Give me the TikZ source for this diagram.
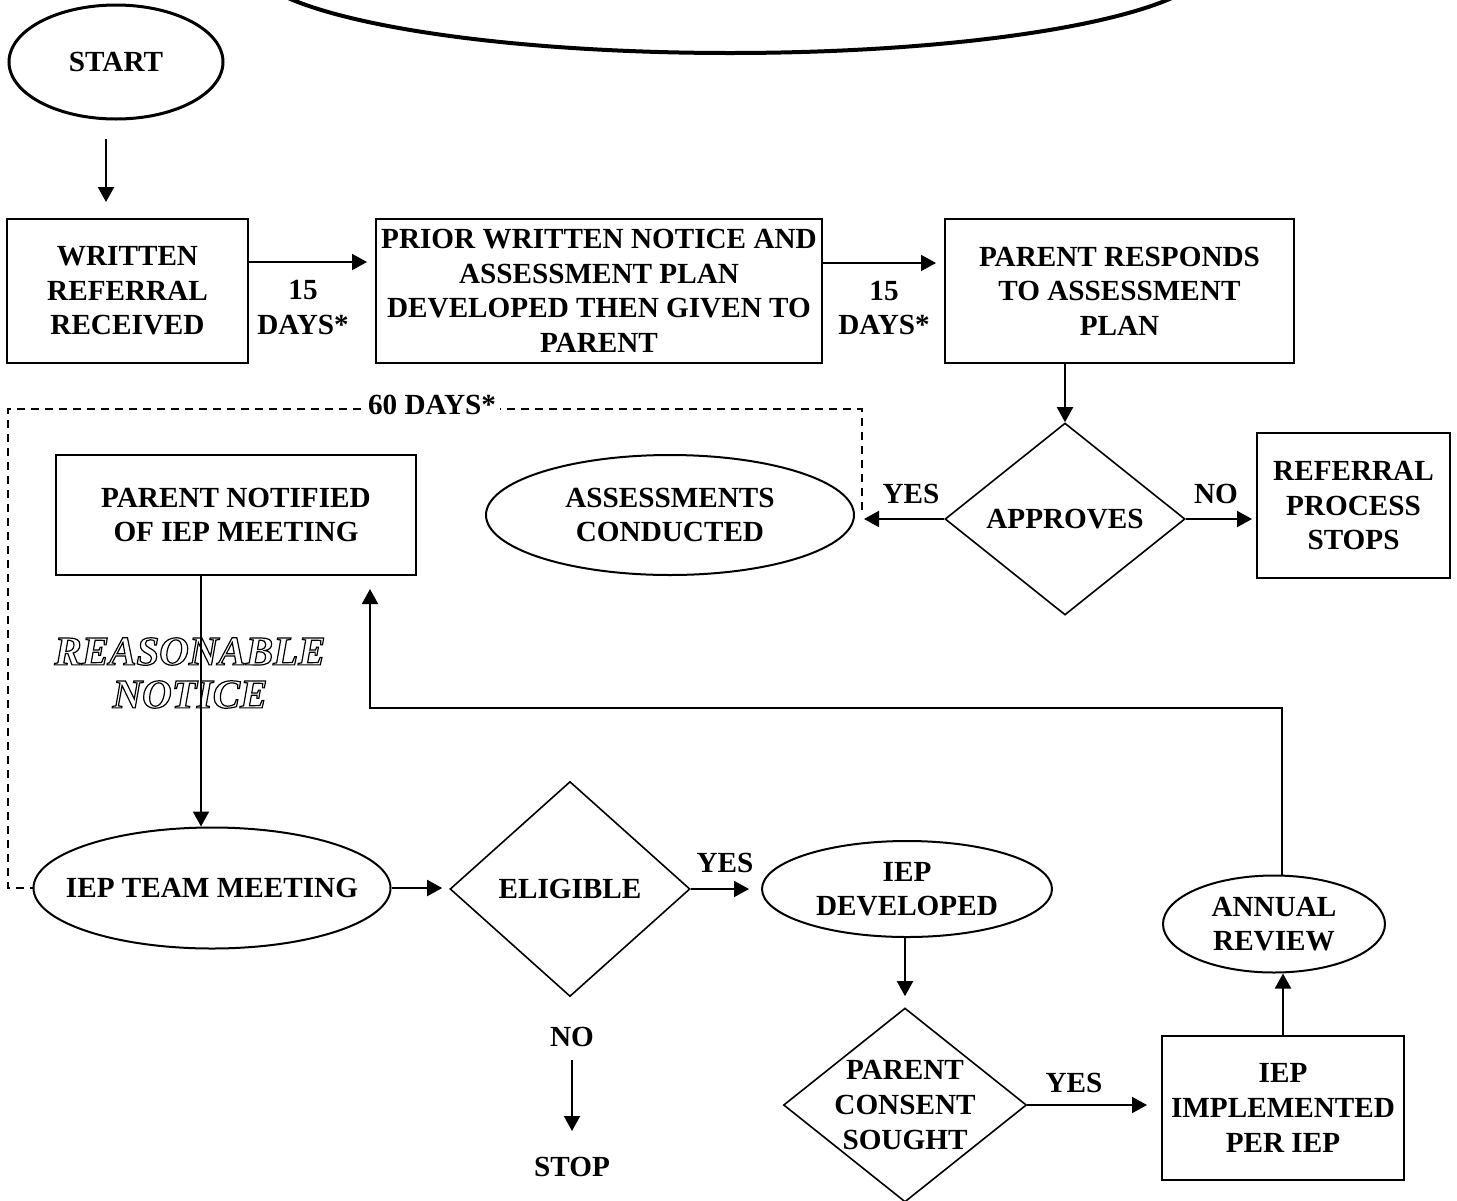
\documentclass[tikz,border=0pt]{standalone}
\usepackage{fontspec}
\setmainfont{Liberation Serif}
\usetikzlibrary{shapes.geometric,arrows.meta}
\begin{document}
\begin{tikzpicture}[x=0.5pt,y=-0.5pt,
  every node/.style={font=\fontsize{14.6}{17.3}\selectfont\bfseries, inner sep=0pt, align=center},
  boxnode/.style={draw, line width=1pt, rectangle},
  ovalnode/.style={draw, line width=1pt, ellipse, inner sep=-40pt},
  decnode/.style={draw, line width=0.8pt, diamond, inner sep=-40pt},
  lbl/.style={},
  arr/.style={line width=1pt, -{Triangle[length=7.5pt,width=8pt]}},
  dashline/.style={line width=0.7pt, dash pattern=on 4pt off 3pt}
]
\useasboundingbox (0,0) rectangle (1457,1200);

% nodes
\node[ovalnode, line width=2pt, minimum width=481pt, minimum height=91pt] (title) at (730,-38) {};
\node[ovalnode, line width=1.5pt, minimum width=107pt, minimum height=57pt] (start) at (116,62) {START};
\node[boxnode, minimum width=120.5pt, minimum height=72pt] (written) at (127.5,291) {WRITTEN\\REFERRAL\\RECEIVED};
\node[boxnode, minimum width=223pt, minimum height=72pt] (prior) at (599,291) {PRIOR WRITTEN NOTICE AND\\ASSESSMENT PLAN\\DEVELOPED THEN GIVEN TO\\PARENT};
\node[boxnode, minimum width=174.5pt, minimum height=72pt] (responds) at (1119.5,291) {PARENT RESPONDS\\TO ASSESSMENT\\PLAN};
\node[decnode, minimum width=120pt, minimum height=96pt] (approves) at (1065,519) {APPROVES};
\node[boxnode, minimum width=96.5pt, minimum height=72.5pt] (referral) at (1353.5,505.5) {REFERRAL\\PROCESS\\STOPS};
\node[ovalnode, minimum width=184pt, minimum height=60pt] (assess) at (670,515) {ASSESSMENTS\\CONDUCTED};
\node[boxnode, minimum width=180pt, minimum height=60pt] (notified) at (236,515) {PARENT NOTIFIED\\OF IEP MEETING};
\node[ovalnode, minimum width=178.5pt, minimum height=60.5pt] (iepteam) at (212,888) {IEP TEAM MEETING};
\node[decnode, minimum width=120pt, minimum height=107.5pt] (eligible) at (570,889) {ELIGIBLE};
\node[ovalnode, minimum width=145pt, minimum height=48pt] (developed) at (907,889) {IEP\\DEVELOPED};
\node[decnode, minimum width=121.5pt, minimum height=97pt] (consent) at (905,1105) {PARENT\\CONSENT\\SOUGHT};
\node[boxnode, minimum width=121pt, minimum height=72pt] (implemented) at (1283,1108) {IEP\\IMPLEMENTED\\PER IEP};
\node[ovalnode, minimum width=111pt, minimum height=48.5pt] (annual) at (1274,924) {ANNUAL\\REVIEW};
\node (no) at (572,1037) {NO};
\node (stop) at (572,1167) {STOP};

% labels
\node[lbl] (d1) at (303,307.5) {15\\DAYS*};
\node[lbl] (d2) at (884,308) {15\\DAYS*};
\node[lbl] (yes1) at (911,494) {YES};
\node[lbl] (no1) at (1216,494) {NO};
\node[lbl] (yes2) at (725,863) {YES};
\node[lbl] (yes3) at (1074,1083) {YES};
\node[font=\fontsize{20.5}{21.5}\selectfont\bfseries\itshape] (reason) at (190,673) {\special{pdf:code 1 Tr 0.6 w}REASONABLE\\\special{pdf:code 1 Tr 0.6 w}NOTICE\special{pdf:code 0 Tr 0.4 w}};

% coordinates
\coordinate (dstart) at (862,510);
\coordinate (dcorner) at (8,409);
\coordinate (loopc) at (370,708);

% dashed 60 days loop
\draw[dashline] (dstart) |- (dcorner) |- (iepteam.west);
\node[lbl, fill=white, inner xsep=2pt, inner ysep=1pt] (sixty) at (432,405) {60 DAYS*};

% connectors
\draw[arr, shorten <=9pt, shorten >=8pt] ([xshift=-5pt]start.south) -- ([xshift=-5pt]start.south |- written.north);
\draw[arr, shorten >=4pt] ([yshift=14.5pt]written.east) -- ([yshift=14.5pt]prior.west);
\draw[arr, shorten >=4pt] ([yshift=14pt]prior.east) -- ([yshift=14pt]responds.west);
\draw[arr] (approves.north |- responds.south) -- (approves.north);
\draw[arr, shorten >=4.5pt] (approves.west) -- (approves.west -| assess.east);
\draw[arr, shorten >=2pt] (approves.east) -- (approves.east -| referral.west);
\draw[arr] ([xshift=-17.5pt]notified.south) -- ([xshift=-17.5pt]notified.south |- iepteam.north);
\draw[arr, shorten >=3.5pt] (iepteam.east) -- (iepteam.east -| eligible.west);
\draw[arr, shorten >=6pt] (eligible.east) -- (eligible.east -| developed.west);
\draw[arr] ([yshift=-11.5pt]no.center) -- ([yshift=18pt]stop.center);
\draw[arr, shorten >=5.5pt] (consent.north |- developed.south) -- (consent.north);
\draw[arr, shorten >=7pt] (consent.east) -- (consent.east -| implemented.west);
\draw[arr] (implemented.north) -- (implemented.north |- annual.south);
\draw[arr, shorten >=6.5pt] ([xshift=4pt]annual.north) |- (loopc) -- (notified.south -| loopc);
\end{tikzpicture}
\end{document}
